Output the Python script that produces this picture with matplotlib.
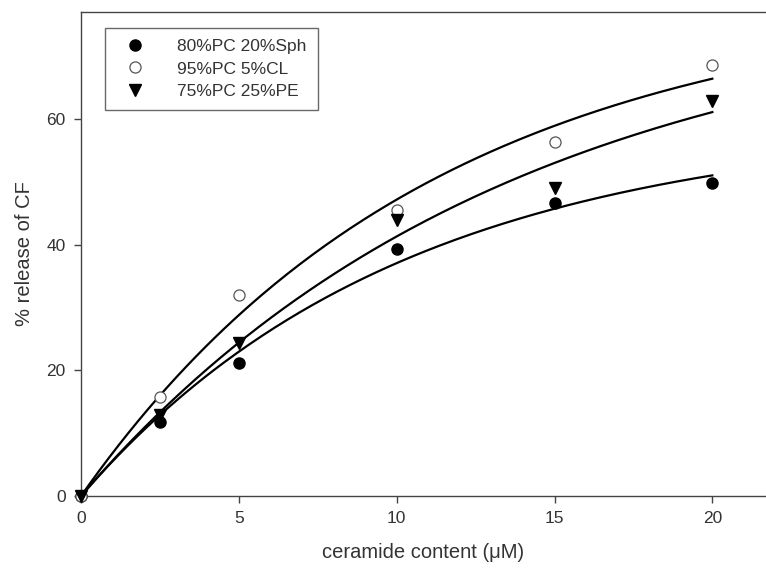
import numpy as np
import matplotlib.pyplot as plt

plt.rcParams['font.family'] = ['Liberation Sans', 'DejaVu Sans']

# ceramide content (uM) and % release of CF
conc = [0, 2.5, 5, 10, 15, 20]
sph = [0, 11.8, 21.2, 39.3, 46.6, 49.8]    # 80%PC 20%Sph
cl = [0, 15.7, 32.0, 45.6, 56.4, 68.6]     # 95%PC 5%CL
pe = [0, 12.9, 24.4, 44.0, 49.1, 62.9]     # 75%PC 25%PE

labels = ["80%PC 20%Sph", "95%PC 5%CL", "75%PC 25%PE"]


def fit_rise(x, y):
    # y = a * (1 - exp(-b x)), least squares over b grid
    x = np.asarray(x, float)
    y = np.asarray(y, float)
    best = None
    for b in np.linspace(0.005, 0.5, 2000):
        g = 1 - np.exp(-b * x)
        a = (g @ y) / (g @ g)
        err = np.sum((y - a * g) ** 2)
        if best is None or err < best[0]:
            best = (err, a, b)
    return best[1], best[2]


fig = plt.figure(figsize=(7.66, 5.71), dpi=100)
ax = fig.add_axes([81 / 766, 1 - 496 / 571, 1 - 81 / 766, (496 - 12) / 571])

xx = np.linspace(0, 20, 200)
for y in (sph, cl, pe):
    a, b = fit_rise(conc, y)
    ax.plot(xx, a * (1 - np.exp(-b * xx)), color="black", lw=1.6, zorder=2)

ax.plot(conc, sph, "o", ms=8, color="black", label=labels[0], clip_on=False, zorder=3)
ax.plot(conc, cl, "o", ms=8, mfc="white", mec="#555555", mew=0.9, label=labels[1],
        clip_on=False, zorder=3)
ax.plot(conc, pe, "v", ms=8, color="black", label=labels[2], clip_on=False, zorder=3)

ax.set_xlim(0, 21.7)
ax.set_ylim(0, 77.1)
ax.set_xticks([0, 5, 10, 15, 20])
ax.set_yticks([0, 20, 40, 60])
ax.spines["right"].set_visible(False)
for s in ("left", "bottom", "top"):
    ax.spines[s].set_color("#444444")
    ax.spines[s].set_linewidth(1.0)
ax.tick_params(direction="out", length=5, width=1, color="#444444",
               labelsize=12.5, labelcolor="#333333", pad=6)

ax.set_xlabel("ceramide content (\u03bcM)", fontsize=14.5, color="#333333", labelpad=12)
ax.set_ylabel("% release of CF", fontsize=14.5, color="#333333", labelpad=9)

leg = ax.legend(loc="upper left", bbox_to_anchor=(24 / 685, 1 - 16 / 484),
                frameon=True, fancybox=False, fontsize=12.5, handletextpad=1.3,
                borderpad=0.65, labelspacing=0.4, borderaxespad=0, handlelength=2.2)
leg.get_frame().set_edgecolor("#444444")
leg.get_frame().set_linewidth(1.0)
for t in leg.get_texts():
    t.set_color("#333333")

fig.savefig("out.png", dpi=100)
